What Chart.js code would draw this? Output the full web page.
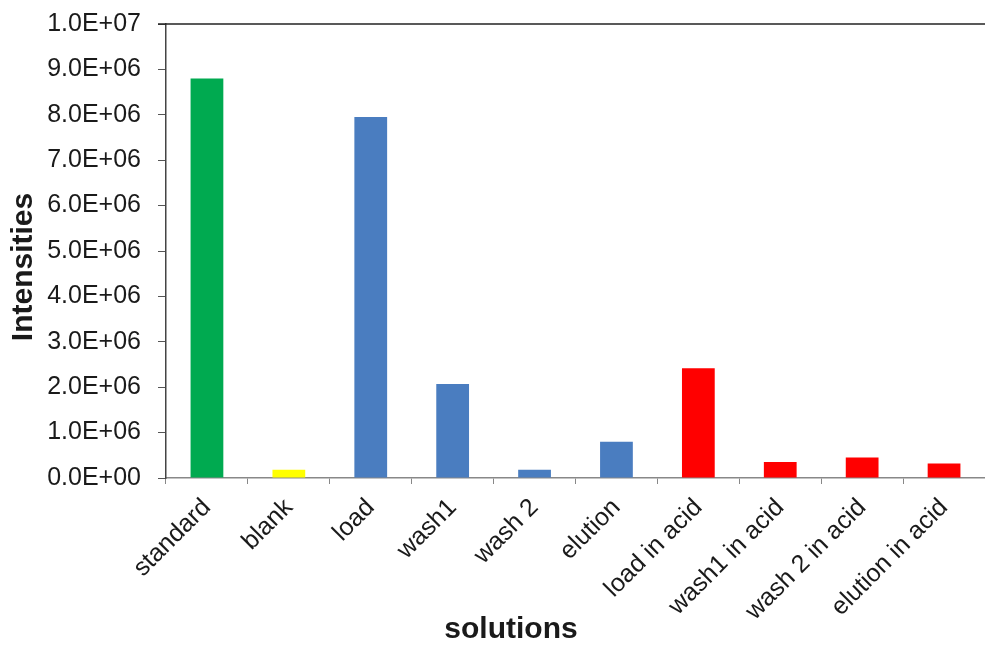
<!DOCTYPE html>
<html>
<head>
<meta charset="utf-8">
<script src="https://cdn.jsdelivr.net/npm/chart.js@4"></script>
<style>
  html, body { margin: 0; padding: 0; background: #fff; }
  #wrap { width: 985px; height: 645px; }
</style>
</head>
<body>
<div id="wrap"><canvas id="myChart" width="985" height="645"></canvas></div>
<script>
const categories = ['standard', 'blank', 'load', 'wash1', 'wash 2', 'elution',
    'load in acid', 'wash1 in acid', 'wash 2 in acid', 'elution in acid'];
const intensities = [8.8e6, 0.18e6, 7.95e6, 2.07e6, 0.18e6, 0.8e6,
    2.42e6, 0.35e6, 0.45e6, 0.32e6];
const barColors = ['#00AA50', '#FFFF00', '#4A7DC0', '#4A7DC0', '#4A7DC0', '#4A7DC0',
    '#FF0000', '#FF0000', '#FF0000', '#FF0000'];
const yMin = 0, yMax = 1e7, yStep = 1e6;
const xTitle = 'solutions';
const yTitle = 'Intensities';

const font = '"Liberation Sans", Arial, sans-serif';

// Excel style scientific label, e.g. 1.0E+07
function sciLabel(v) {
    const parts = Number(v).toExponential(1).split('e');
    let exp = parseInt(parts[1], 10);
    const sign = exp < 0 ? '-' : '+';
    exp = Math.abs(exp);
    return parts[0] + 'E' + sign + (exp < 10 ? '0' + exp : exp);
}

// top border line and the two axis titles (placed like the excel original)
const extras = {
    id: 'extras',
    afterDraw(chart) {
        const a = chart.chartArea;
        const ctx = chart.ctx;
        ctx.save();
        ctx.strokeStyle = '#222';
        ctx.lineWidth = 1.5;
        ctx.beginPath();
        ctx.moveTo(a.left - 8, a.top);
        ctx.lineTo(a.right, a.top);
        ctx.stroke();

        ctx.fillStyle = '#1a1a1a';
        ctx.font = 'bold 30px ' + font;
        ctx.textAlign = 'center';
        ctx.textBaseline = 'middle';
        ctx.fillText(xTitle, 511, 630);

        ctx.translate(24, 267);
        ctx.rotate(-Math.PI / 2);
        ctx.fillText(yTitle, 0, 0);
        ctx.restore();
    }
};

window.onload = function() {
    const ctx = document.getElementById('myChart').getContext('2d');
    new Chart(ctx, {
        type: 'bar',
        data: {
            labels: categories,
            datasets: [{
                data: intensities,
                backgroundColor: barColors,
                barPercentage: 0.4,
                categoryPercentage: 1.0
            }]
        },
        options: {
            responsive: false,
            animation: false,
            layout: { padding: { top: 24, right: 0, bottom: 0, left: 0 } },
            plugins: { legend: { display: false }, tooltip: { enabled: false } },
            scales: {
                x: {
                    grid: { drawOnChartArea: false, drawTicks: true, tickLength: 6, color: '#888', offset: true },
                    border: { color: '#888', width: 1.5 },
                    ticks: {
                        minRotation: 45, maxRotation: 45, autoSkip: false,
                        color: '#1a1a1a', padding: 9,
                        font: { family: font, size: 25 }
                    },
                    afterFit(scale) { scale.height = 167; }
                },
                y: {
                    min: yMin, max: yMax,
                    grid: { drawOnChartArea: false, drawTicks: true, tickLength: 8, color: '#555' },
                    border: { color: '#444', width: 1.5 },
                    ticks: {
                        stepSize: yStep, color: '#1a1a1a', padding: 17,
                        font: { family: font, size: 25 },
                        callback: function(v) { return sciLabel(v); }
                    },
                    afterFit(scale) {
                        scale.width = 166;
                        scale.paddingTop = 0;
                        scale.paddingBottom = 0;
                    }
                }
            }
        },
        plugins: [extras]
    });
};
</script>
</body>
</html>
